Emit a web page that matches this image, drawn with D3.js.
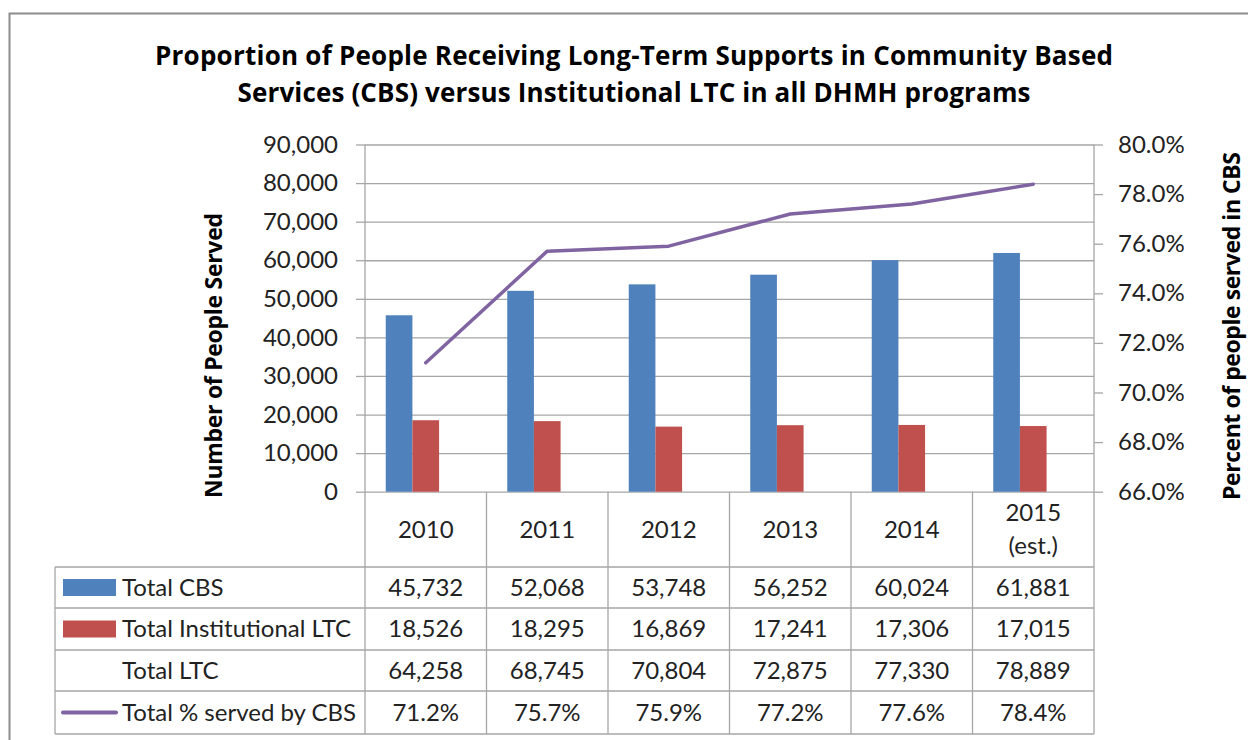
<!DOCTYPE html>
<html>
<head>
<meta charset="utf-8">
<script src="https://cdn.jsdelivr.net/npm/d3@7"></script>
<style>
  html, body { margin: 0; padding: 0; background: #fff; }
  svg { display: block; font-family: Lato, "Open Sans", sans-serif; }
</style>
</head>
<body>
<svg id="chart" width="1248" height="740"></svg>
<script>
// ---- data ----
const categories = ["2010", "2011", "2012", "2013", "2014", "2015 (est.)"];
const totalCBS = [45732, 52068, 53748, 56252, 60024, 61881];
const totalInstitutional = [18526, 18295, 16869, 17241, 17306, 17015];
const totalLTC = [64258, 68745, 70804, 72875, 77330, 78889];
const pctServedCBS = [0.712, 0.757, 0.759, 0.772, 0.776, 0.784];
const leftTicks = [0, 10000, 20000, 30000, 40000, 50000, 60000, 70000, 80000, 90000];
const rightTicks = [0.66, 0.68, 0.70, 0.72, 0.74, 0.76, 0.78, 0.80];

const seriesNames = ["Total CBS", "Total Institutional LTC", "Total LTC", "Total % served by CBS"];
const titleLines = [
  "Proportion of People Receiving Long-Term Supports in Community Based",
  "Services (CBS) versus Institutional LTC in all DHMH programs"
];

// ---- layout ----
const plot = { left: 365, right: 1094, top: 144.5, bottom: 491.7 };
const tableLeft = 55;
const rowEdges = [567, 608, 650, 691, 734];
const colors = { cbs: "#4F81BD", inst: "#C0504D", line: "#8064A2", grid: "#A6A6A6", text: "#222" };
const fontSize = 24;
const boldFont = "'Open Sans', Lato, sans-serif";

const svg = d3.select("#chart");

// outer chart frame
svg.append("rect")
  .attr("x", 9.5).attr("y", 13.5).attr("width", 1300).attr("height", 800)
  .attr("fill", "#fff").attr("stroke", "#8C8C8C").attr("stroke-width", 2);

// title
const titleWidths = [958, 793];
svg.append("g").selectAll("text").data(titleLines).join("text")
  .attr("x", 634).attr("y", (d, i) => 65 + i * 36.5)
  .attr("text-anchor", "middle")
  .attr("font-family", boldFont)
  .attr("font-size", 26).attr("font-weight", "bold").attr("fill", "#000")
  .attr("textLength", (d, i) => titleWidths[i]).attr("lengthAdjust", "spacing")
  .text(d => d);

// scales
const x = d3.scaleBand().domain(categories).range([plot.left, plot.right]).paddingInner(0).paddingOuter(0);
const xSub = d3.scaleBand().domain(["cbs", "inst", "ltc"]).range([0, x.bandwidth()])
  .paddingInner(0).paddingOuter(0.778);
const y = d3.scaleLinear().domain([0, 90000]).range([plot.bottom, plot.top]);
const y2 = d3.scaleLinear().domain([0.66, 0.80]).range([plot.bottom, plot.top]);

// gridlines + left axis
const leftAxis = d3.axisLeft(y).tickValues(leftTicks).tickSize(9).tickFormat(d3.format(","));
const gLeft = svg.append("g").attr("transform", `translate(${plot.left},0)`).call(leftAxis);
gLeft.select(".domain").remove();
gLeft.selectAll(".tick line").attr("stroke", colors.grid).attr("stroke-width", 1.3);
gLeft.selectAll(".tick text").attr("x", -27).attr("font-size", fontSize)
  .attr("font-family", "Lato, sans-serif").attr("fill", colors.text);

const gGrid = svg.append("g").attr("transform", `translate(${plot.left},0)`)
  .call(d3.axisLeft(y).tickValues(leftTicks).tickSize(-(plot.right - plot.left)).tickFormat(""));
gGrid.select(".domain").remove();
gGrid.selectAll(".tick line").attr("stroke", colors.grid).attr("stroke-width", 1.3);

// right axis
const rightAxis = d3.axisRight(y2).tickValues(rightTicks).tickSize(9).tickFormat(d3.format(".1%"));
const gRight = svg.append("g").attr("transform", `translate(${plot.right},0)`).call(rightAxis);
gRight.select(".domain").attr("stroke", colors.grid).attr("stroke-width", 1.3).attr("d", `M0,${plot.top}V${plot.bottom}`);
gRight.selectAll(".tick line").attr("stroke", colors.grid).attr("stroke-width", 1.3);
gRight.selectAll(".tick text").attr("x", 24).attr("font-size", fontSize)
  .attr("font-family", "Lato, sans-serif").attr("fill", colors.text);

// bars
const barSeries = [
  { key: "cbs", values: totalCBS, color: colors.cbs },
  { key: "inst", values: totalInstitutional, color: colors.inst },
  { key: "ltc", values: totalLTC, color: "none" }
];
barSeries.forEach(s => {
  svg.append("g").selectAll("rect").data(categories).join("rect")
    .attr("x", (c) => x(c) + xSub(s.key))
    .attr("width", xSub.bandwidth())
    .attr("y", (c, i) => y(s.values[i]))
    .attr("height", (c, i) => y(0) - y(s.values[i]))
    .attr("fill", s.color);
});

// line (secondary axis)
const line = d3.line()
  .x((d, i) => x(categories[i]) + x.bandwidth() / 2)
  .y(d => y2(d));
svg.append("path").datum(pctServedCBS)
  .attr("d", line).attr("fill", "none")
  .attr("stroke", colors.line).attr("stroke-width", 3.5)
  .attr("stroke-linecap", "round").attr("stroke-linejoin", "round");

// left value axis line
svg.append("line")
  .attr("x1", plot.left).attr("x2", plot.left)
  .attr("y1", plot.top).attr("y2", rowEdges[rowEdges.length - 1])
  .attr("stroke", colors.grid).attr("stroke-width", 1.3);

// ---- data table ----
const tbl = svg.append("g").attr("stroke", colors.grid).attr("stroke-width", 1.3);
// horizontal rules
rowEdges.forEach(ry => {
  tbl.append("line").attr("x1", tableLeft).attr("x2", plot.right).attr("y1", ry).attr("y2", ry);
});
// vertical rules
categories.forEach(c => {
  tbl.append("line").attr("x1", x(c) + x.bandwidth()).attr("x2", x(c) + x.bandwidth())
    .attr("y1", plot.bottom).attr("y2", rowEdges[rowEdges.length - 1]);
});
tbl.append("line").attr("x1", tableLeft).attr("x2", tableLeft)
  .attr("y1", rowEdges[0]).attr("y2", rowEdges[rowEdges.length - 1]);

// category header labels
const header = svg.append("g");
categories.forEach(c => {
  const parts = c.split(" ");
  const cx = x(c) + x.bandwidth() / 2;
  const cy = (plot.bottom + rowEdges[0]) / 2;
  const lh = 33;
  parts.forEach((p, j) => {
    header.append("text")
      .attr("x", cx).attr("y", cy + (j - (parts.length - 1) / 2) * lh)
      .attr("dy", "0.35em").attr("text-anchor", "middle")
      .attr("font-size", fontSize).attr("fill", colors.text).text(p);
  });
});

// table rows
const fmtInt = d3.format(",");
const fmtPct = d3.format(".1%");
const rows = [
  { name: seriesNames[0], values: totalCBS.map(fmtInt), key: "rect", color: colors.cbs },
  { name: seriesNames[1], values: totalInstitutional.map(fmtInt), key: "rect", color: colors.inst },
  { name: seriesNames[2], values: totalLTC.map(fmtInt), key: "none" },
  { name: seriesNames[3], values: pctServedCBS.map(fmtPct), key: "line", color: colors.line }
];
rows.forEach((r, i) => {
  const cy = (rowEdges[i] + rowEdges[i + 1]) / 2;
  const g = svg.append("g");
  if (r.key === "rect") {
    g.append("rect").attr("x", 63).attr("y", cy - 8.5).attr("width", 53).attr("height", 17).attr("fill", r.color);
  } else if (r.key === "line") {
    g.append("line").attr("x1", 63).attr("x2", 116).attr("y1", cy).attr("y2", cy)
      .attr("stroke", r.color).attr("stroke-width", 4).attr("stroke-linecap", "round");
  }
  g.append("text").attr("x", 122).attr("y", cy).attr("dy", "0.35em")
    .attr("font-size", fontSize).attr("fill", colors.text).text(r.name);
  g.selectAll("text.v").data(r.values).join("text").attr("class", "v")
    .attr("x", (d, j) => x(categories[j]) + x.bandwidth() / 2)
    .attr("y", cy).attr("dy", "0.35em").attr("text-anchor", "middle")
    .attr("font-size", fontSize).attr("fill", colors.text).text(d => d);
});

// axis titles
svg.append("text")
  .attr("transform", `translate(222,355.5) rotate(-90)`)
  .attr("text-anchor", "middle").attr("font-family", boldFont)
  .attr("font-size", 23).attr("font-weight", "bold").attr("fill", "#000")
  .attr("textLength", 285).attr("lengthAdjust", "spacing")
  .text("Number of People Served");
svg.append("text")
  .attr("transform", `translate(1240,326) rotate(-90)`)
  .attr("text-anchor", "middle").attr("font-family", boldFont)
  .attr("font-size", 23).attr("font-weight", "bold").attr("fill", "#000")
  .attr("textLength", 348).attr("lengthAdjust", "spacing")
  .text("Percent of people served in CBS");
</script>
</body>
</html>
